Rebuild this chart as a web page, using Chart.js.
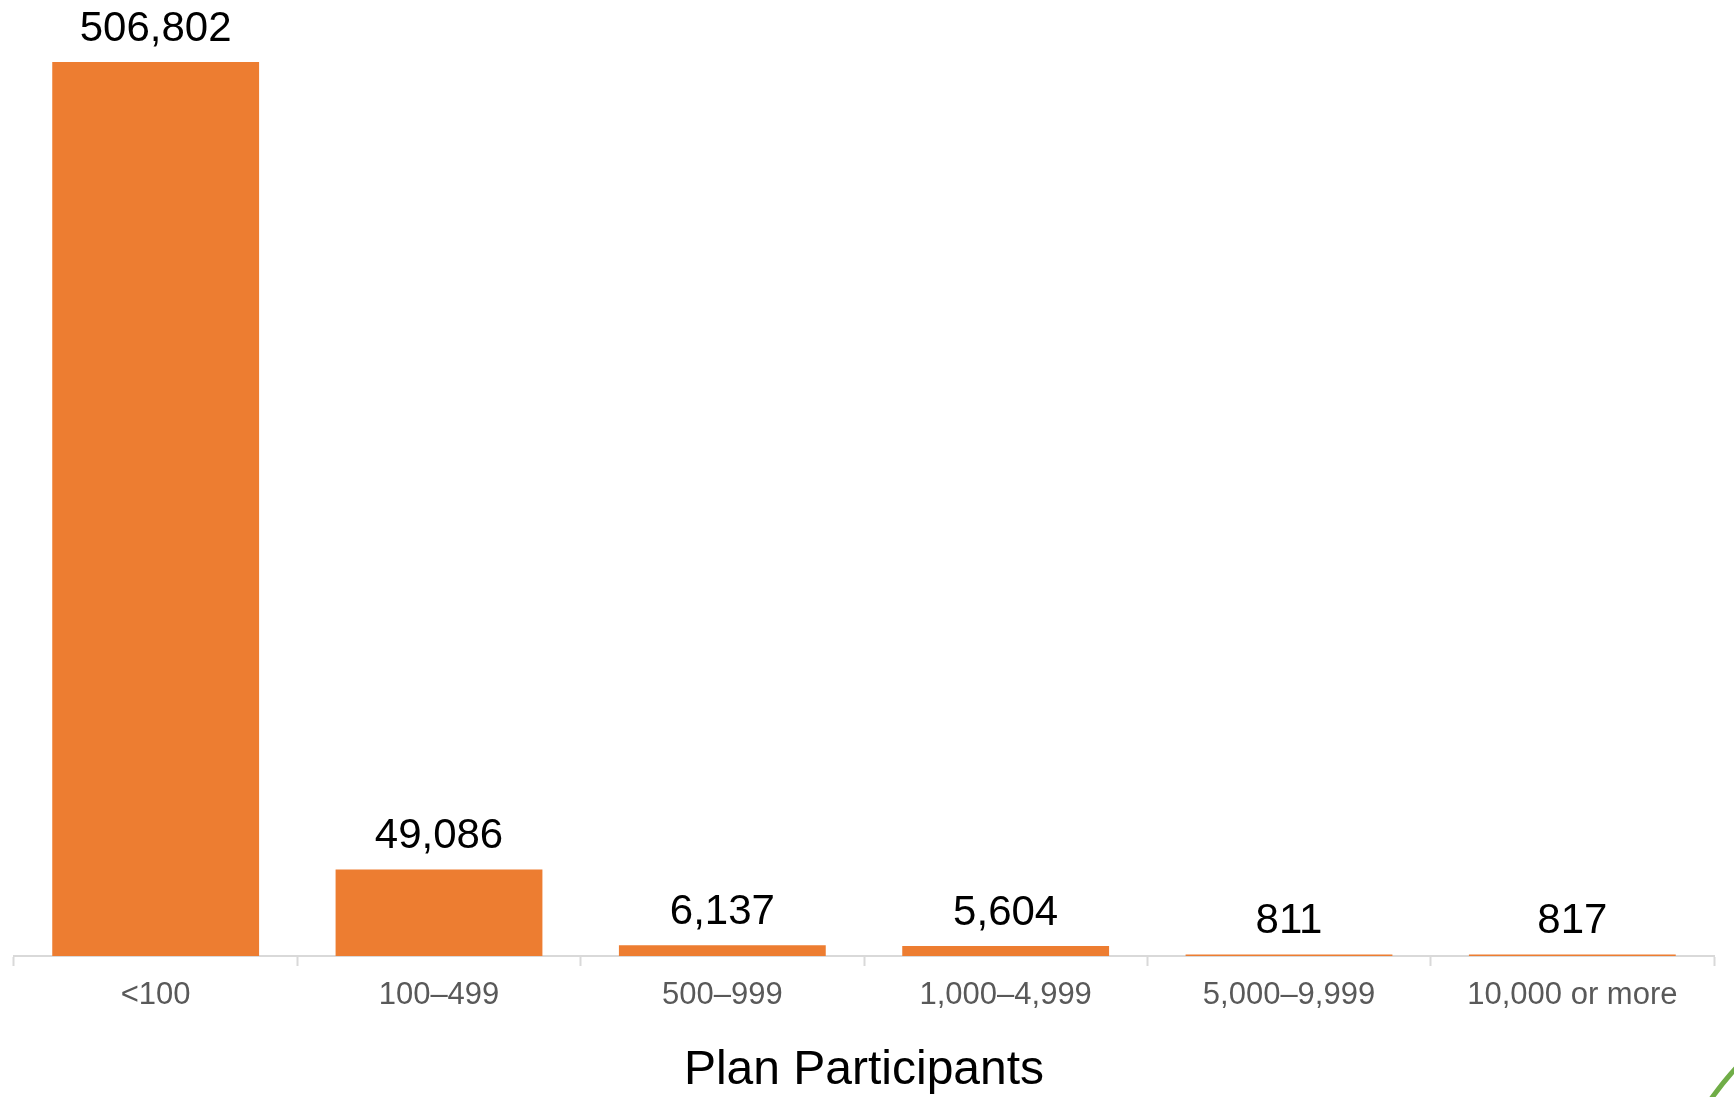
<!DOCTYPE html>
<html>
<head>
<meta charset="utf-8">
<title>Plan Participants</title>
<script src="https://cdn.jsdelivr.net/npm/chart.js@4.4.1/dist/chart.umd.min.js"></script>
<style>
  html, body { margin: 0; padding: 0; background: #ffffff; }
  #wrap { position: relative; width: 1734px; height: 1097px; }
</style>
</head>
<body>
<div id="wrap"><canvas id="chart"></canvas></div>
<script>
// Data
const categories = ['<100', '100\u2013499', '500\u2013999', '1,000\u20134,999', '5,000\u20139,999', '10,000 or more'];
const planCounts = [506802, 49086, 6137, 5604, 811, 817];
const axisTitle = 'Plan Participants';

// Draws the value above each bar
const valueLabels = {
    id: 'valueLabels',
    afterDatasetsDraw(chart) {
        const ctx = chart.ctx;
        const meta = chart.getDatasetMeta(0);
        ctx.save();
        ctx.font = '42px "Liberation Sans", Arial, sans-serif';
        ctx.fillStyle = '#000000';
        ctx.textAlign = 'center';
        ctx.textBaseline = 'bottom';
        meta.data.forEach((bar, i) => {
            ctx.fillText(planCounts[i].toLocaleString('en-US'), bar.x, bar.y - 12);
        });
        ctx.restore();
    }
};

// Green slide decoration in the bottom right corner
const cornerStroke = {
    id: 'cornerStroke',
    afterDraw(chart) {
        const ctx = chart.ctx;
        const w = chart.width, h = chart.height;
        ctx.save();
        ctx.strokeStyle = '#70AD47';
        ctx.lineWidth = 5;
        ctx.beginPath();
        ctx.moveTo(w - 23, h + 2);
        ctx.quadraticCurveTo(w - 10, h - 16, w + 2, h - 29);
        ctx.stroke();
        ctx.restore();
    }
};

new Chart(document.getElementById('chart'), {
    type: 'bar',
    data: {
        labels: categories,
        datasets: [{
            data: planCounts,
            backgroundColor: '#ED7D31',
            borderWidth: 0,
            barPercentage: 0.73,
            categoryPercentage: 1.0
        }]
    },
    options: {
        responsive: true,
        maintainAspectRatio: false,
        animation: false,
        layout: {
            padding: { top: 62, left: 14, right: 20, bottom: 0 }
        },
        plugins: {
            legend: { display: false },
            tooltip: { enabled: false }
        },
        scales: {
            x: {
                grid: {
                    display: true,
                    offset: true,
                    drawOnChartArea: false,
                    drawTicks: true,
                    tickLength: 10,
                    tickWidth: 2,
                    tickColor: '#D9D9D9'
                },
                border: { display: true, color: '#D9D9D9', width: 2 },
                ticks: {
                    color: '#595959',
                    padding: 11,
                    maxRotation: 0,
                    autoSkip: false,
                    font: { family: '"Liberation Sans", Arial, sans-serif', size: 31 }
                },
                title: {
                    display: true,
                    text: axisTitle,
                    color: '#000000',
                    padding: { top: 19, bottom: 0 },
                    font: { family: '"Liberation Sans", Arial, sans-serif', size: 48, lineHeight: 1.1 }
                }
            },
            y: {
                display: false,
                beginAtZero: true,
                max: planCounts[0]
            }
        }
    },
    plugins: [valueLabels, cornerStroke]
});
</script>
</body>
</html>
